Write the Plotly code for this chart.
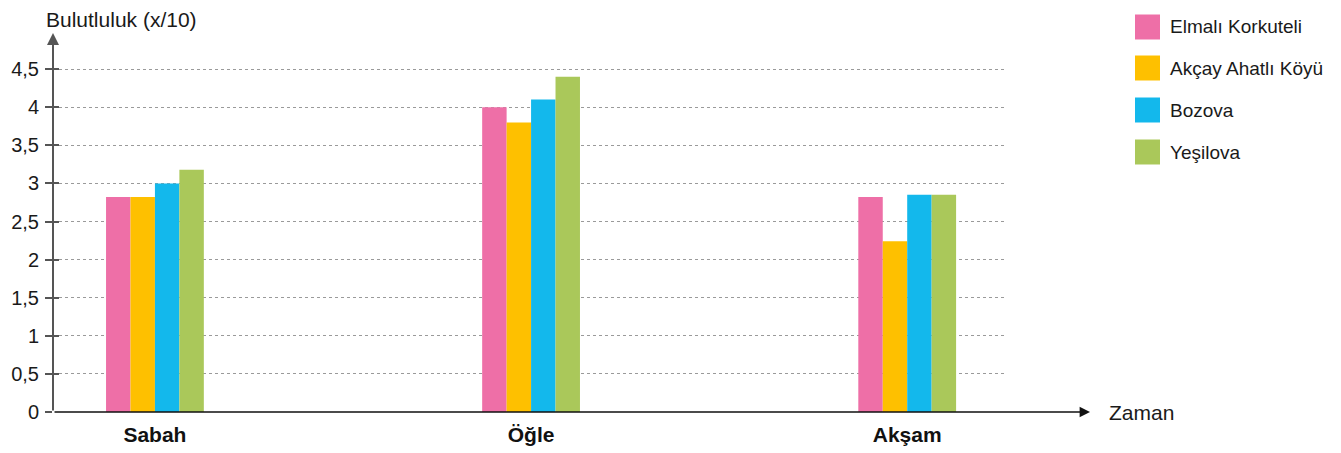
import plotly.graph_objects as go

categories = ["Sabah", "Öğle", "Akşam"]
series_names = ["Elmalı Korkuteli", "Akçay Ahatlı Köyü", "Bozova", "Yeşilova"]
elmali = [2.82, 4.0, 2.82]
akcay = [2.82, 3.8, 2.24]
bozova = [3.0, 4.1, 2.85]
yesilova = [3.18, 4.4, 2.85]
colors = ["#EE6FA7", "#FEC000", "#13B8EC", "#AAC85A"]
ytick_vals = [0, 0.5, 1, 1.5, 2, 2.5, 3, 3.5, 4, 4.5]
ytick_text = ["0", "0,5", "1", "1,5", "2", "2,5", "3", "3,5", "4", "4,5"]

FONT = "Liberation Sans, Arial, sans-serif"

OFF = 8  # page body margin
W, H = 1341, 453
L, R, T, B = 53 - OFF, 336 + OFF, 31 - OFF, 41 + OFF
pw, ph = W - L - R, H - T - B

fig = go.Figure()
for name, vals, col in zip(series_names, [elmali, akcay, bozova, yesilova], colors):
    fig.add_trace(go.Bar(x=categories, y=vals, name=name, marker=dict(color=col, line=dict(width=0)),
                         showlegend=False))

# invisible trace for overlay axis
fig.add_trace(go.Scatter(x=categories, y=[None]*3, yaxis="y2", showlegend=False, hoverinfo="skip"))

fig.update_layout(
    width=W, height=H,
    margin=dict(l=L, r=R, t=T, b=B, autoexpand=False),
    paper_bgcolor="white", plot_bgcolor="white",
    barmode="group", bargap=0.74, bargroupgap=0,
    font=dict(family=FONT, size=20, color="#1a1a1a"),
    xaxis=dict(
        type="category", range=[-0.271, 2.26], showgrid=False, showline=False, zeroline=False,
        automargin=False,
        ticks="", tickfont=dict(family=FONT, size=21, color="#111", weight="bold"),
        ticklabelstandoff=8,
    ),
    yaxis=dict(
        range=[0, 5.0], tickvals=ytick_vals, ticktext=ytick_text, automargin=False,
        showgrid=True, gridcolor="#9a9a9a", griddash="dot", gridwidth=1.3,
        zeroline=False, showline=False,
        ticks="outside", ticklen=7, tickwidth=2, tickcolor="#555",
        tickfont=dict(family=FONT, size=20, color="#1a1a1a"),
        ticklabelstandoff=2,
    ),
    yaxis2=dict(
        overlaying="y", side="left", range=[0, 5.0], tickvals=ytick_vals, automargin=False,
        showgrid=False, zeroline=False, showline=False, showticklabels=False,
        ticks="inside", ticklen=6, tickwidth=2, tickcolor="#555",
    ),
)

def px_to_paper_x(px):
    return (px - OFF - L) / pw

def px_to_paper_y(py):
    return (H - B - (py - OFF)) / ph

# y axis with arrow
fig.add_annotation(xref="paper", yref="paper", x=0, y=px_to_paper_y(33), text="",
                   showarrow=True, axref="pixel", ayref="pixel", ax=0, ay=412 - 33,
                   arrowhead=2, arrowsize=1.2, arrowwidth=2, arrowcolor="#555")
# x axis with arrow
fig.add_annotation(xref="paper", yref="paper", x=px_to_paper_x(1090), y=0, text="",
                   showarrow=True, axref="pixel", ayref="pixel", ax=-(1090 - 53), ay=0,
                   arrowhead=2, arrowsize=1.3, arrowwidth=1.6, arrowcolor="#111")

fig.add_annotation(xref="paper", yref="paper", x=px_to_paper_x(1107), y=px_to_paper_y(412),
                   text="Zaman", showarrow=False, xanchor="left", yanchor="middle",
                   font=dict(family=FONT, size=21, color="#1a1a1a"))
fig.add_annotation(xref="paper", yref="paper", x=px_to_paper_x(45), y=px_to_paper_y(20),
                   text="Bulutluluk (x/10)", showarrow=False, xanchor="left", yanchor="middle",
                   borderpad=0, font=dict(family=FONT, size=21, color="#1a1a1a"))

# manual legend
row_y = [27, 68, 110, 152]
for name, col, ry in zip(series_names, colors, row_y):
    fig.add_shape(type="rect", xref="paper", yref="paper",
                  x0=px_to_paper_x(1135), x1=px_to_paper_x(1160),
                  y0=px_to_paper_y(ry + 12.5), y1=px_to_paper_y(ry - 12.5),
                  fillcolor=col, line=dict(width=0))
    fig.add_annotation(xref="paper", yref="paper", x=px_to_paper_x(1168), y=px_to_paper_y(ry),
                       text=name, showarrow=False, xanchor="left", yanchor="middle",
                       font=dict(family=FONT, size=19, color="#1a1a1a"))

fig.write_html("out.html")
